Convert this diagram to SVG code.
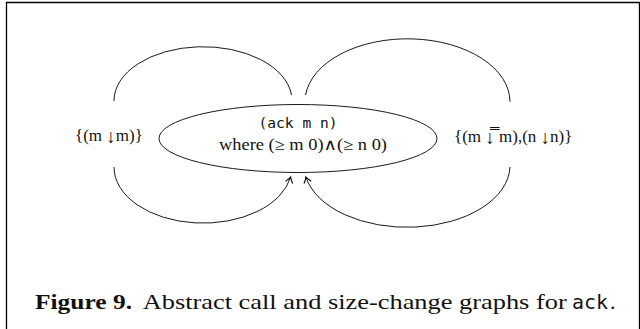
<svg xmlns="http://www.w3.org/2000/svg" width="640" height="329" viewBox="0 0 640 329">
<style>
.frame{stroke:#000;stroke-width:1.3;fill:none}
.edge{stroke:#000;stroke-width:0.9;fill:none}
.node{stroke:#000;stroke-width:0.9;fill:#fff}
.serif{font-family:"Liberation Serif","DejaVu Serif",serif;fill:#111}
.mono{font-family:"DejaVu Sans Mono","Liberation Mono",monospace;fill:#111}
.lbl{font-size:17px}
.arw{font-size:19px}
</style>
<defs>
<marker id="arr" markerUnits="userSpaceOnUse" markerWidth="10" markerHeight="10" viewBox="-6 -4 8 8" refX="0" refY="0" orient="auto">
<path d="M -4.5 -3 Q -1.5 -0.6 0 0 Q -1.5 0.6 -4.5 3" stroke="#000" stroke-width="0.9" fill="none"/>
</marker>
</defs>
<path class="frame" d="M 6.5 329 L 6.5 2.5 L 639.5 2.5 L 639.5 329"/>
<g id="connectors">
<path class="edge" d="M 114 101 A 89 54 0 0 1 291.5 95"/>
<path class="edge" d="M 114 167 A 89 56 0 0 0 290.6 177" marker-end="url(#arr)"/>
<path class="edge" d="M 305.6 95 A 102.5 63 0 0 1 510 101.7"/>
<path class="edge" d="M 510 167 A 103 62 0 0 1 305.9 177" marker-end="url(#arr)"/>
</g>
<g id="node-ack">
<ellipse class="node" cx="298" cy="138.5" rx="139" ry="34"/>
<text class="mono" x="258.5" y="128" font-size="14.5" textLength="79" lengthAdjust="spacingAndGlyphs">(ack m n)</text>
<text class="serif" x="219" y="149.5" font-size="16" textLength="168" lengthAdjust="spacingAndGlyphs">where (≥ m 0)∧(≥ n 0)</text>
</g>
<g id="label-left">
<text class="serif lbl" x="75" y="141">{(m <tspan class="arw" dy="1.5">↓</tspan><tspan dy="-1.5">m)}</tspan></text>
</g>
<g id="label-right">
<text class="serif lbl" x="454" y="142">{(m <tspan class="arw" dy="1.5">↓̿</tspan><tspan dy="-1.5"> m),(n </tspan><tspan class="arw" dy="1.5">↓</tspan><tspan dy="-1.5">n)}</tspan></text>
</g>
<g id="caption">
<text class="serif" x="35" y="308.5" font-size="22" font-weight="bold" textLength="97" lengthAdjust="spacingAndGlyphs">Figure 9.</text>
<text class="serif" x="142.7" y="308.5" font-size="22" textLength="424" lengthAdjust="spacingAndGlyphs">Abstract call and size-change graphs for</text>
<text class="mono" x="572" y="308.5" font-size="19" textLength="36" lengthAdjust="spacingAndGlyphs">ack</text>
<text class="serif" x="610" y="308.5" font-size="22">.</text>
</g>
</svg>
